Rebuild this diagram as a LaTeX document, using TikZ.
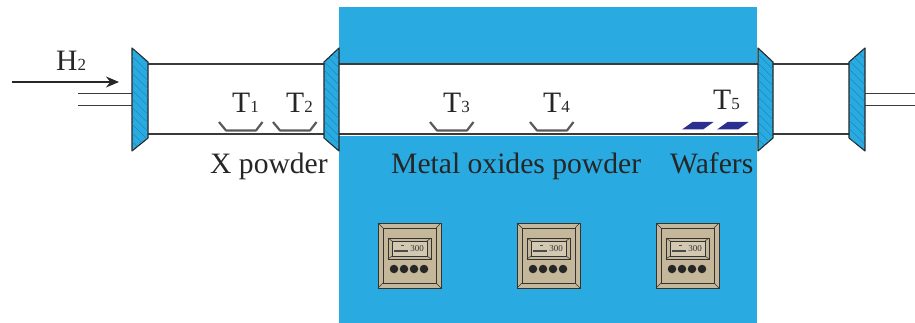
\documentclass[tikz,border=0pt]{standalone}
\usepackage{fontspec}
\setmainfont{Liberation Serif}
\usetikzlibrary{arrows.meta,patterns.meta}
\definecolor{furnace}{HTML}{29ABE2}
\definecolor{hatchline}{HTML}{1B7FAA}
\definecolor{tubeline}{HTML}{3A3A3A}
\definecolor{boatline}{HTML}{5A5A5A}
\definecolor{wafer}{HTML}{2B3090}
\definecolor{panel}{HTML}{C4B79A}
\newcommand{\lab}[2]{#1{\fontsize{17}{18}\selectfont #2}}
\begin{document}
\begin{tikzpicture}[
    x=1pt, y=-1pt,
    label/.style={anchor=base west, inner sep=0pt, font=\fontsize{29.6}{30}\selectfont, text=black!85},
    flange/.style={draw=black!85, line width=1.1pt, line join=round, fill=furnace,
        postaction={pattern={Lines[angle=-45,distance=6pt,line width=.35pt]}, pattern color=hatchline}},
    tube/.style={draw=tubeline, line width=1.2pt},
    pipe/.style={draw=tubeline, line width=.9pt},
    boat/.style={draw=boatline, line width=2.2pt, line join=round},
    waferpiece/.style={fill=wafer},
    box/.style={draw=black!80, line width=.7pt, fill=panel},
    bevel/.style={draw=black!80, line width=.5pt},
    knob/.style={circle, fill=black!85, minimum size=8.5pt, inner sep=0pt}
]
\useasboundingbox (0,0) rectangle (915,323);
% furnace and its bore
\fill[furnace] (339,7) rectangle (757,323);
\fill[white] (339,64) rectangle (757,136);
% tube lines
\coordinate (a1) at (148,64);
\coordinate (a2) at (324,64);
\coordinate (b1) at (148,134);
\coordinate (b2) at (324,134);
\coordinate (c1) at (339,64);
\coordinate (c2) at (758,64);
\coordinate (d1) at (339,134);
\coordinate (d2) at (758,134);
\coordinate (e1) at (773,64);
\coordinate (e2) at (849,64);
\coordinate (f1) at (773,134);
\coordinate (f2) at (849,134);
\draw[tube] (a1) -- (a2);
\draw[tube] (b1) -- (b2);
\draw[tube] (c1) -- (c2);
\draw[tube] (d1) -- (d2);
\draw[tube] (e1) -- (e2);
\draw[tube] (f1) -- (f2);
% flanges
\draw[flange] (132,48) -- (148,62) -- (148,138) -- (132,151) -- cycle;
\draw[flange] (339,48) -- (324,62) -- (324,138) -- (339,151) -- cycle;
\draw[flange] (758,48) -- (773,62) -- (773,138) -- (758,151) -- cycle;
\draw[flange] (865,48) -- (849,62) -- (849,138) -- (865,151) -- cycle;
% gas pipes
\draw[pipe] (78,93.5) -- (132,93.5);
\draw[pipe] (78,105) -- (132,105);
\draw[pipe] (865,93.5) -- (915,93.5);
\draw[pipe] (865,105) -- (915,105);
% inlet
\coordinate (inlet) at (12,82);
\coordinate (inletend) at (119,82);
\draw[line width=1.1pt, black!85, -{Stealth[length=13pt,width=11pt]}] (inlet) -- (inletend);
% boats
\foreach \bx in {219,273,430,530}
    \draw[boat] (\bx,122) -- ++(7,8.5) -- ++(30,0) -- ++(6.5,-8.5);
% wafers
\foreach \wx in {682,717}
    \fill[waferpiece] (\wx,129.5) -- ++(10.5,-7.5) -- ++(21,0) -- ++(-10.5,7.5) -- cycle;
% controllers
\foreach \cx in {378,517,656} {
    \begin{scope}[xshift=\cx pt]
    \draw[box] (0,223) rectangle (63,288);
    \draw[bevel] (5,228) rectangle (58,283);
    \draw[bevel] (0,223) -- (5,228) (63,223) -- (58,228) (0,288) -- (5,283) (63,288) -- (58,283);
    \draw[bevel, line width=.8pt] (10,238) rectangle (53,259);
    \draw[bevel, fill=panel!75!white] (14,241) rectangle (49,256);
    \draw[bevel] (10,238) -- (14,241) (53,238) -- (49,241) (10,259) -- (14,256) (53,259) -- (49,256);
    \draw[black!70, line width=1.2pt] (16,251) -- (30,251);
    \draw[black!70, line width=.6pt] (23,245) -- (26,245);
    \node[inner sep=0pt, font=\fontsize{9}{9}\selectfont, text=black!80] (readout\cx) at (39,249) {300};
    \foreach \kx in {1,...,4}
        \node[knob] (knob\cx-\kx) at (6+10*\kx,269) {};
    \end{scope}
}
% labels
\node[label] (hlabel) at (56,71) {\lab{H}{2}};
\node[label] (tone) at (232,113) {\lab{T}{1}};
\node[label] (ttwo) at (286,113) {\lab{T}{2}};
\node[label] (tthree) at (443,113) {\lab{T}{3}};
\node[label] (tfour) at (543,113) {\lab{T}{4}};
\node[label] (tfive) at (713,110) {\lab{T}{5}};
\node[label] (xpowder) at (210,174) {X powder};
\node[label] (oxides) at (391,174) {Metal oxides powder};
\node[label] (wafers) at (670,174) {Wafers};
\end{tikzpicture}
\end{document}
